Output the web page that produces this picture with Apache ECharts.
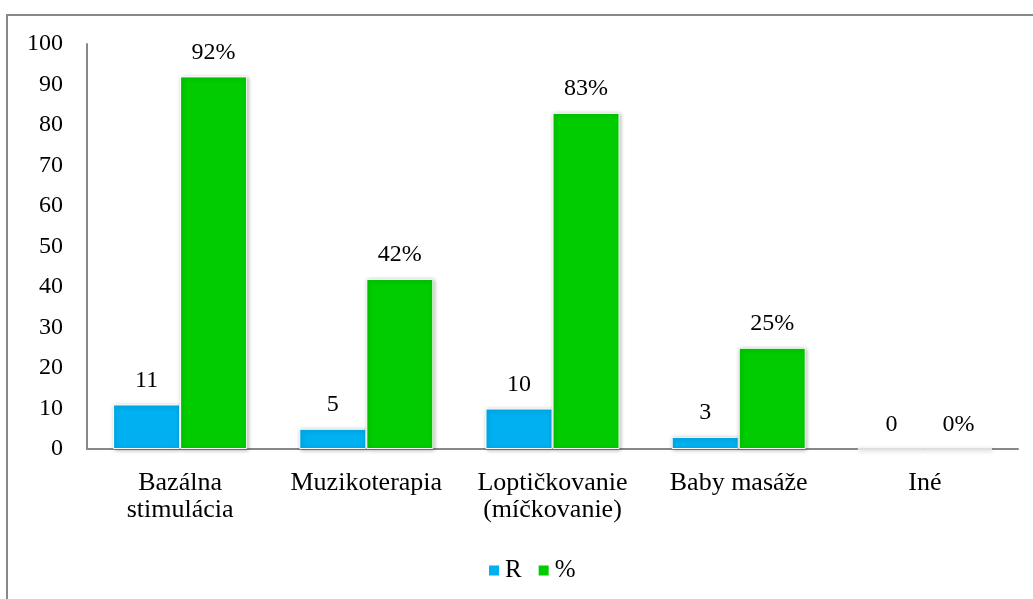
<!DOCTYPE html>
<html>
<head>
<meta charset="utf-8">
<script src="https://cdn.jsdelivr.net/npm/echarts@6/dist/echarts.min.js"></script>
<style>
html,body{margin:0;padding:0;background:#fff;}
#chart{width:1033px;height:599px;}
</style>
</head>
<body>
<div id="chart"></div>
<script>
const categories = ['Bazálna\nstimulácia', 'Muzikoterapia', 'Loptičkovanie\n(míčkovanie)', 'Baby masáže', 'Iné'];
const valuesR = [11, 5, 10, 3, 0];
const valuesPct = [92, 42, 83, 25, 0];
const yTicks = [0, 100, 10];

const font = '"Liberation Serif", "Times New Roman", serif';
const chart = echarts.init(document.getElementById('chart'));
chart.setOption({
  animation: false,
  textStyle: { fontFamily: font },
  graphic: [{
    type: 'rect',
    shape: { x: 7, y: 15, width: 1100, height: 700 },
    style: { fill: 'none', stroke: '#888', lineWidth: 2 },
    silent: true
  }],
  grid: { left: 87, right: 15, top: 44, bottom: 150, containLabel: false },
  legend: {
    top: 553,
    left: 482,
    itemWidth: 12,
    itemHeight: 12,
    itemGap: 15,
    icon: 'rect',
    textStyle: { fontFamily: font, fontSize: 25, color: '#000' },
    data: ['R', '%']
  },
  xAxis: {
    type: 'category',
    data: categories,
    axisLine: { lineStyle: { color: '#888', width: 2 } },
    axisTick: { show: false },
    axisLabel: { color: '#000', fontFamily: font, fontSize: 26, margin: 21, lineHeight: 27, interval: 0 }
  },
  yAxis: {
    type: 'value',
    min: yTicks[0], max: yTicks[1], interval: yTicks[2],
    axisLine: { show: true, lineStyle: { color: '#888', width: 2 } },
    axisTick: { show: false },
    splitLine: { show: false },
    axisLabel: { color: '#000', fontFamily: font, fontSize: 24, margin: 24 }
  },
  series: [
    {
      name: 'R', type: 'bar', data: valuesR,
      barGap: '0%', barCategoryGap: '28%',
      itemStyle: { color: '#00B0F0', borderColor: '#fff', borderWidth: 1, shadowColor: 'rgba(0,0,0,0.3)', shadowBlur: 4, shadowOffsetX: 1, shadowOffsetY: 1 },
      label: { show: true, position: 'top', distance: 12, color: '#000', fontFamily: font, fontSize: 24 }
    },
    {
      name: '%', type: 'bar', data: valuesPct,
      itemStyle: { color: '#00CC00', borderColor: '#fff', borderWidth: 1, shadowColor: 'rgba(0,0,0,0.3)', shadowBlur: 4, shadowOffsetX: 1, shadowOffsetY: 1 },
      label: { show: true, position: 'top', distance: 12, color: '#000', fontFamily: font, fontSize: 24, formatter: '{c}%' }
    }
  ]
});
</script>
</body>
</html>
